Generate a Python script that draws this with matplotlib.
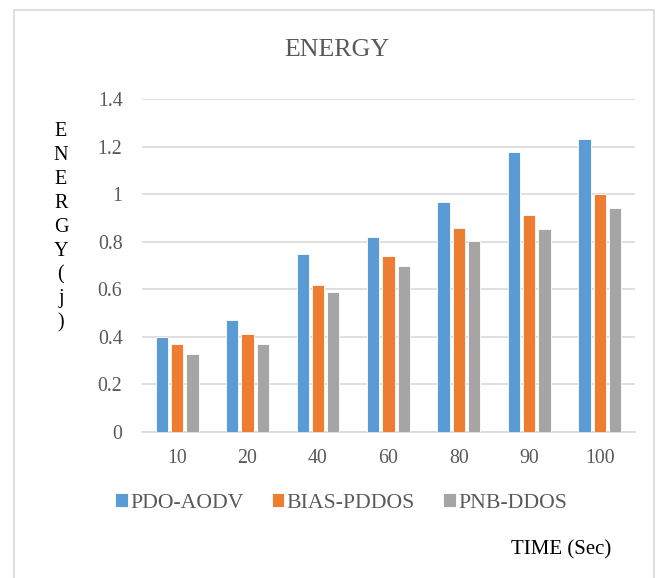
import numpy as np
import matplotlib
matplotlib.use("Agg")
import matplotlib.pyplot as plt
from matplotlib.patches import Rectangle

# data
times = ["10", "20", "40", "60", "80", "90", "100"]
pdo_aodv = [0.40, 0.47, 0.75, 0.82, 0.965, 1.177, 1.233]
bias_pddos = [0.37, 0.41, 0.62, 0.74, 0.856, 0.912, 1.0]
pnb_ddos = [0.33, 0.37, 0.59, 0.70, 0.805, 0.853, 0.94]
series_names = ["PDO-AODV", "BIAS-PDDOS", "PNB-DDOS"]
y_ticks = [0, 0.2, 0.4, 0.6, 0.8, 1.0, 1.2, 1.4]
y_tick_labels = ["0", "0.2", "0.4", "0.6", "0.8", "1", "1.2", "1.4"]

colors = ["#5B9BD5", "#ED7D31", "#A5A5A5"]
text_gray = "#595959"
grid_gray = "#D9D9D9"

plt.rcParams["font.family"] = ["Liberation Serif", "DejaVu Serif"]

fig = plt.figure(figsize=(6.6, 5.78), dpi=100)
ax = fig.add_axes([0.215, 0.2526, 0.747, 0.5761])

x = np.arange(len(times))
width = 0.175
pitch = 0.217
all_series = [pdo_aodv, bias_pddos, pnb_ddos]
for i, (vals, name) in enumerate(zip(all_series, series_names)):
    ax.bar(x + (i - 1) * pitch, vals, width, color=colors[i],
           edgecolor="white", linewidth=0.6, label=name, zorder=3)

ax.set_xlim(-0.5, len(times) - 0.5)
ax.set_ylim(0, 1.4)
ax.set_yticks(y_ticks)
ax.set_yticklabels(y_tick_labels)
ax.set_xticks(x)
ax.set_xticklabels(times)
ax.tick_params(axis="both", length=0, labelsize=14.3, colors=text_gray)
ax.tick_params(axis="x", pad=12.5)
ax.tick_params(axis="y", pad=14)
ax.grid(axis="y", color=grid_gray, linewidth=1.2, zorder=0)
for side in ["top", "right", "left"]:
    ax.spines[side].set_visible(False)
ax.spines["bottom"].set_color(grid_gray)
ax.spines["bottom"].set_linewidth(1.2)

# chart title
fig.text(0.51, 0.9031, "ENERGY", ha="center", va="baseline",
         fontsize=18.7, color=text_gray)

# vertical stacked y label
letters = list("ENERGY(j)")
y0 = 131.7
step = 23.9
for k, ch in enumerate(letters):
    fig.text(61 / 660, 1 - (y0 + k * step) / 578, ch, ha="center",
             va="center", fontsize=14.5, color="black")

fig.text(561 / 660, 1 - 550 / 578, "TIME (Sec)", ha="center", va="center",
         fontsize=15, color="black")

leg = fig.legend(loc="center", bbox_to_anchor=(0.517, 0.1298), ncol=3,
                 frameon=False, fontsize=15.7, handlelength=0.56,
                 handleheight=0.56, handletextpad=0.12, columnspacing=1.3,
                 borderaxespad=0, borderpad=0)
for t in leg.get_texts():
    t.set_color(text_gray)

# light border around the chart area
fig.patches.append(Rectangle((14 / 660, -0.05), 640 / 660, 1.05 - 10 / 578,
                             transform=fig.transFigure, fill=False,
                             edgecolor=grid_gray, linewidth=1.2))

fig.savefig("out.png", dpi=100)
